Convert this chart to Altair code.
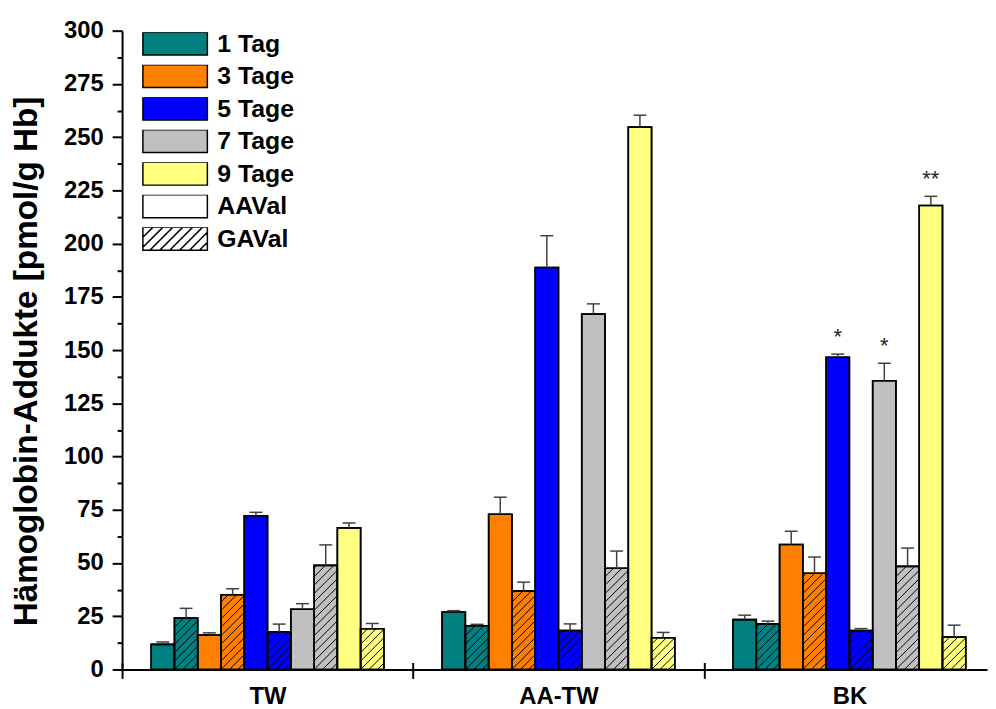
import altair as alt
import pandas as pd
import numpy as np

# ---------------- data ----------------
groups = ["TW", "AA-TW", "BK"]
days = ["1 Tag", "3 Tage", "5 Tage", "7 Tage", "9 Tage"]
adducts = ["AAVal", "GAVal"]
day_colors = ["#008080", "#FF8000", "#0000FF", "#C0C0C0", "#FFFF80"]

aaval_TW = [11.8, 16.2, 72.2, 28.3, 66.5]
aaval_err_TW = [1.1, 1.0, 1.6, 2.6, 2.3]
gaval_TW = [24.2, 35.1, 17.7, 48.9, 19.1]
gaval_err_TW = [4.5, 2.8, 3.6, 9.6, 2.5]

aaval_AATW = [27.0, 72.9, 188.8, 166.9, 254.7]
aaval_err_AATW = [0.6, 8.0, 14.9, 4.8, 5.6]
gaval_AATW = [20.5, 36.9, 18.3, 47.5, 14.9]
gaval_err_AATW = [0.7, 4.1, 3.1, 8.1, 2.5]

aaval_BK = [23.4, 58.7, 146.6, 135.6, 217.9]
aaval_err_BK = [2.1, 6.2, 1.5, 8.2, 4.3]
gaval_BK = [21.4, 45.2, 18.3, 48.4, 15.2]
gaval_err_BK = [1.3, 7.6, 0.9, 8.6, 5.6]

stars_BK_aaval = ["", "", "*", "*", "**"]

y_ticks = list(range(0, 301, 25))
y_minor = [v + 12.5 for v in range(0, 300, 25)]

# ---------------- layout ----------------
W, H = 872, 644
XMAX = 2.973
YMAX = 300
PX_X = W / XMAX
PX_Y = H / YMAX
GROUP_PAD = 0.1
BAR_W = 0.08
CAP_HALF = 6.5 / PX_X
HATCH_SP = 8.5
LEG_HATCH_SP = 10.0
FONT = "Liberation Sans"

series = {
    "TW": (aaval_TW, aaval_err_TW, gaval_TW, gaval_err_TW, ["", "", "", "", ""]),
    "AA-TW": (aaval_AATW, aaval_err_AATW, gaval_AATW, gaval_err_AATW, ["", "", "", "", ""]),
    "BK": (aaval_BK, aaval_err_BK, gaval_BK, gaval_err_BK, stars_BK_aaval),
}

rows = []
for g, grp in enumerate(groups):
    aa, aae, ga, gae, st = series[grp]
    for d, day in enumerate(days):
        for a, add in enumerate(adducts):
            i = d * 2 + a
            x1 = g + GROUP_PAD + i * BAR_W
            val = aa[d] if a == 0 else ga[d]
            err = aae[d] if a == 0 else gae[d]
            rows.append(dict(group=grp, key=day, adduct=add, x1=x1, x2=x1 + BAR_W,
                             xc=x1 + BAR_W / 2, cx1=x1 + BAR_W / 2 - CAP_HALF,
                             cx2=x1 + BAR_W / 2 + CAP_HALF, value=val, base=0.0,
                             top=val + err, star=(st[d] if a == 0 else "")))
bars_df = pd.DataFrame(rows)

# hatch lines for GAVal bars (45 degree in pixel space)
hrows = []
for r in rows:
    if r["adduct"] != "GAVal":
        continue
    wpx = BAR_W * PX_X
    hpx = r["value"] * PX_Y
    k0 = int(np.ceil(-wpx / HATCH_SP))
    k1 = int(np.floor(hpx / HATCH_SP))
    for k in range(k0, k1 + 1):
        c = k * HATCH_SP
        X0 = max(0.0, -c)
        X1 = min(wpx, hpx - c)
        if X1 - X0 < 0.8:
            continue
        hrows.append(dict(hx=r["x1"] + X0 / PX_X, hy=(X0 + c) / PX_Y,
                          hx2=r["x1"] + X1 / PX_X, hy2=(X1 + c) / PX_Y))
hatch_df = pd.DataFrame(hrows)

# legend symbols (custom paths)
leg_keys = days + adducts
leg_colors = day_colors + ["white", "white"]
hh = 23 / 65.0
rect_path = f"M-1,-{hh:.3f}H1V{hh:.3f}H-1Z"
hatch_path = rect_path
sp = LEG_HATCH_SP / 32.5
t = -1 - 2 * hh + sp
while t < 1:
    xs0, ys0 = t, hh
    xs1, ys1 = t + 2 * hh, -hh
    if xs0 < -1:
        ys0 = hh - (-1 - xs0)
        xs0 = -1
    if xs1 > 1:
        ys1 = -hh + (xs1 - 1)
        xs1 = 1
    if xs1 - xs0 > 0.02:
        hatch_path += f"M{xs0:.3f},{ys0:.3f}L{xs1:.3f},{ys1:.3f}"
    t += sp
leg_shapes = [rect_path] * 6 + [hatch_path]
legend_df = pd.DataFrame({"key": leg_keys})

# ---------------- chart ----------------
xs = alt.Scale(domain=[0, XMAX], nice=False, zero=False)
ys = alt.Scale(domain=[0, YMAX], nice=False)
color_scale = alt.Scale(domain=leg_keys, range=leg_colors)
shape_scale = alt.Scale(domain=leg_keys, range=leg_shapes)
stroke_scale = alt.Scale(domain=leg_keys, range=["black"] * len(leg_keys))

legend = alt.Legend(title=None, orient="none", legendX=20, legendY=1.5,
                    symbolSize=4225, clipHeight=23, rowPadding=6.8,
                    labelFontSize=25, labelFont=FONT, labelFontWeight="bold",
                    labelColor="black", labelOffset=9, symbolStrokeColor="black",
                    symbolStrokeWidth=1.5, symbolOpacity=1, labelLimit=300)

label_expr = " : ".join(
    [f"datum.value < {i + 1} ? '{g}'" for i, g in enumerate(groups[:-1])]) + f" : '{groups[-1]}'"

bars = alt.Chart(bars_df).mark_bar(strokeWidth=1.6).encode(
    x=alt.X("x1:Q", scale=xs,
            axis=alt.Axis(values=[0, 1, 2, 3], labels=False, ticks=True, tickSize=16,
                          offset=-7, domain=False, grid=False, title=None,
                          tickWidth=2, tickColor="black", orient="bottom")),
    x2="x2:Q",
    y=alt.Y("value:Q", scale=ys,
            axis=alt.Axis(values=y_ticks, tickSize=10, tickWidth=2, tickColor="black",
                          domainWidth=2, domainColor="black", grid=False,
                          labelFontSize=24, labelFont=FONT, labelFontWeight="bold",
                          labelColor="black", labelPadding=9, labelFlush=False,
                          title="Hämoglobin-Addukte [pmol/g Hb]", titleFontSize=33.5,
                          titleFont=FONT, titleFontWeight="bold", titleColor="black",
                          titlePadding=20, titleY=H / 2 + 11, orient="left")),
    y2="base:Q",
    color=alt.Color("key:N", scale=color_scale, legend=legend),
    stroke=alt.Stroke("key:N", scale=stroke_scale, legend=legend),
)

hatch = alt.Chart(hatch_df).mark_rule(color="black", strokeWidth=1).encode(
    x=alt.X("hx:Q", scale=xs, axis=None),
    x2="hx2:Q",
    y=alt.Y("hy:Q", scale=ys,
            axis=alt.Axis(values=y_minor, labels=False, tickSize=5, tickWidth=2,
                          tickColor="black", domain=False, grid=False, title=None,
                          orient="left")),
    y2="hy2:Q",
)

outline = alt.Chart(bars_df).mark_bar(fillOpacity=0, stroke="black", strokeWidth=1.6).encode(
    x=alt.X("x1:Q", scale=xs, axis=None),
    x2="x2:Q",
    y=alt.Y("value:Q", scale=ys, axis=None),
    y2="base:Q",
)

errs = alt.Chart(bars_df).mark_rule(color="#404040", strokeWidth=1.5).encode(
    x=alt.X("xc:Q", scale=xs,
            axis=alt.Axis(values=[0.5, 1.5, 2.5], labelExpr=label_expr, ticks=False,
                          tickSize=0, domain=True, domainWidth=2, domainColor="black",
                          labelFontSize=24, labelFont=FONT, labelFontWeight="bold",
                          labelColor="black", labelPadding=15, labelFlush=False,
                          title=None, grid=False, orient="bottom")),
    y=alt.Y("value:Q", scale=ys, axis=None),
    y2="top:Q",
)

caps = alt.Chart(bars_df).mark_rule(color="#404040", strokeWidth=1.5).encode(
    x=alt.X("cx1:Q", scale=xs, axis=None),
    x2="cx2:Q",
    y=alt.Y("top:Q", scale=ys, axis=None),
)

stars = alt.Chart(bars_df).transform_filter("datum.star != ''").mark_text(
    fontSize=22, font=FONT, dy=-10, baseline="alphabetic", color="#222222"
).encode(
    x=alt.X("xc:Q", scale=xs, axis=None),
    y=alt.Y("top:Q", scale=ys, axis=None),
    text="star:N",
)

leg_layer = alt.Chart(legend_df).transform_filter("false").mark_point(
    filled=True, size=4225, strokeWidth=1.5, opacity=1
).encode(
    color=alt.Color("key:N", scale=color_scale, legend=legend),
    shape=alt.Shape("key:N", scale=shape_scale, legend=legend),
    stroke=alt.Stroke("key:N", scale=stroke_scale, legend=legend),
)

chart = alt.layer(bars, hatch, outline, errs, caps, stars, leg_layer).resolve_axis(
    x="independent", y="independent"
).properties(
    width=W, height=H,
    padding={"left": 115, "top": 20, "right": 1, "bottom": 37},
    autosize=alt.AutoSizeParams(type="none"),
    background="white",
).configure_view(stroke="transparent")

chart.save("out.html", embed_options={"renderer": "svg", "actions": False})
